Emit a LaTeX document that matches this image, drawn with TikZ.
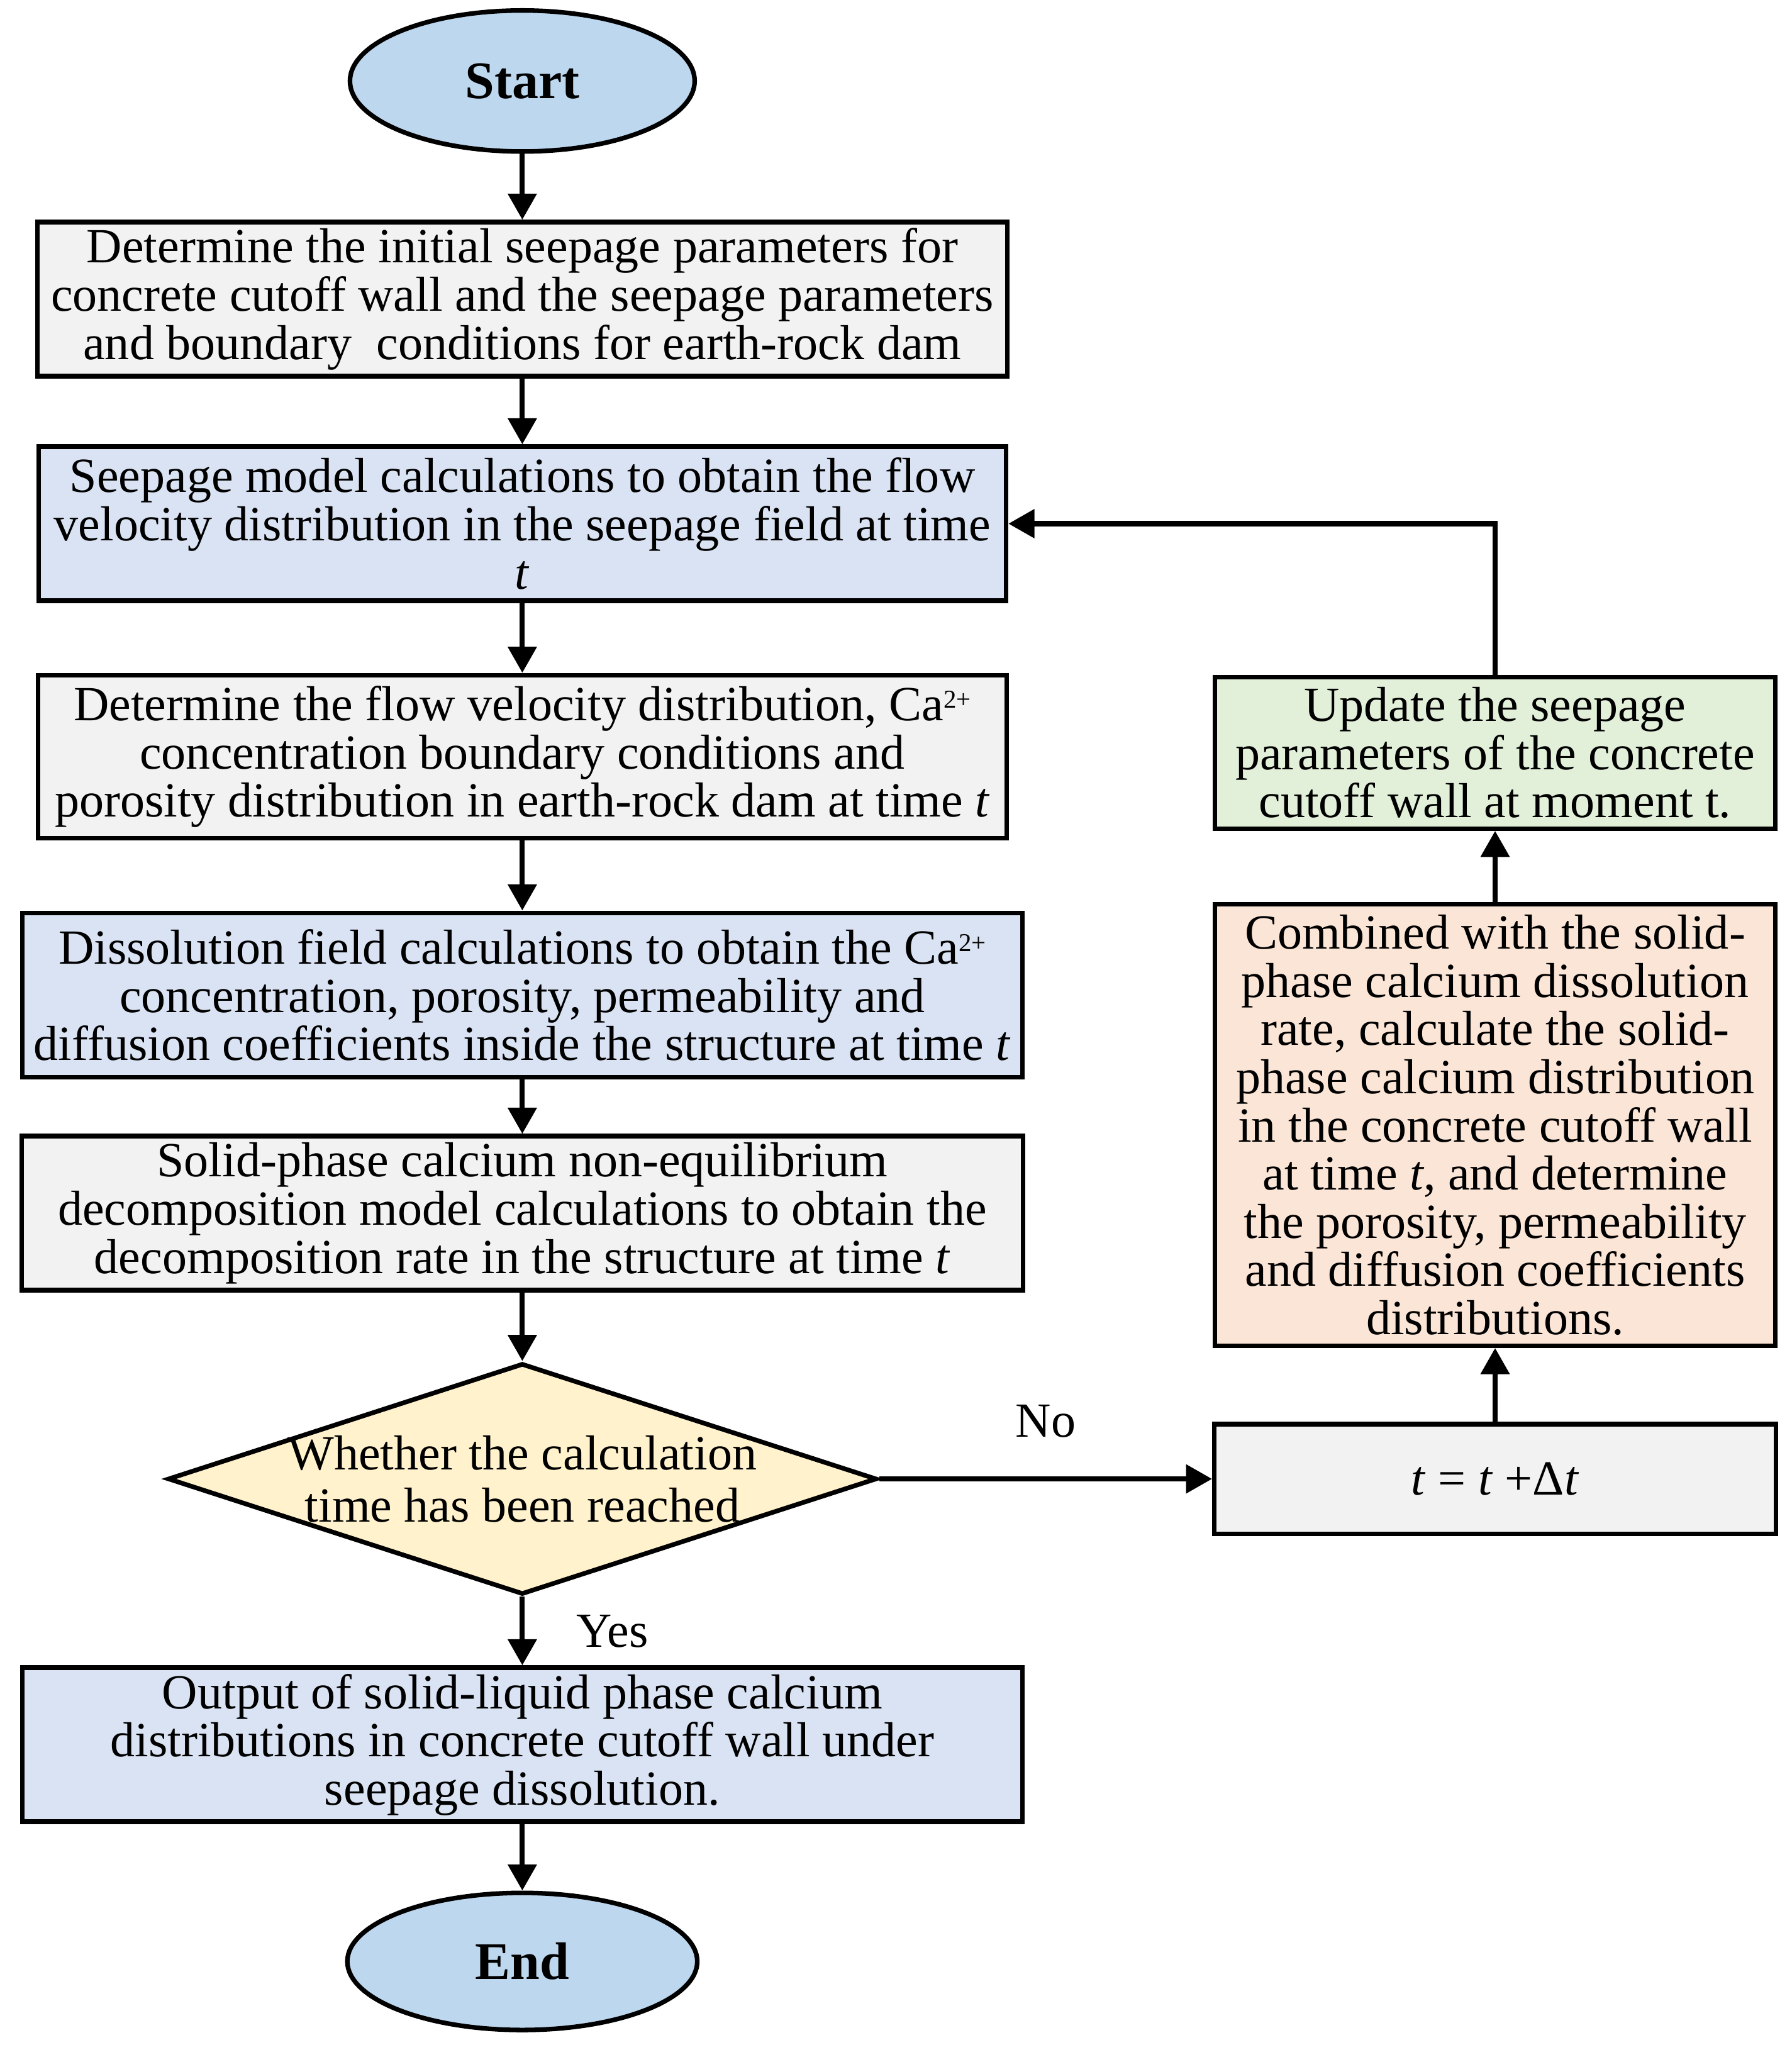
\documentclass[tikz,border=0pt]{standalone}
\usepackage{fontspec}
\setmainfont{Liberation Serif}
\usepackage{tikz}
\usetikzlibrary{shapes.geometric,arrows.meta}
\definecolor{greyfill}{HTML}{F2F2F2}
\definecolor{bluefill}{HTML}{DAE3F3}
\definecolor{endfill}{HTML}{BDD7EE}
\definecolor{yellowfill}{HTML}{FFF2CC}
\definecolor{greenfill}{HTML}{E2F0D9}
\definecolor{peachfill}{HTML}{FBE5D6}
\newcommand{\caion}{Ca\raisebox{2.7pt}{\fontsize{5.6}{6}\selectfont 2+}}

\begin{document}
\begin{tikzpicture}[node distance={17mm}, line width=1pt,
    font=\fontsize{10.7}{10.5}\selectfont,
    main/.style = {draw, rectangle, align=center, inner sep=0.3mm, minimum height=11.8mm},
    terminal/.style = {draw, ellipse, fill=endfill, inner sep=0pt, font=\fontsize{11.5}{12}\selectfont\bfseries},
    decision/.style = {draw, diamond, fill=yellowfill, inner sep=0pt},
    flow/.style = {line width=1.1pt, -{Triangle[length=2mm,width=2.15mm]}}]
        \useasboundingbox (0,0) rectangle (137.2mm,-156.6mm);
        \node[terminal, minimum width=26.4mm, minimum height=10.8mm] (start) at (40mm,-6.2mm) {Start};
        \node[main, fill=greyfill, minimum width=74.3mm] (n_1) [below of=start, node distance=16.7mm]
            {Determine the initial seepage parameters for\\ concrete cutoff wall and the seepage parameters\\ and boundary \ conditions for earth-rock dam};
        \node[main, fill=bluefill, minimum width=74.1mm] (n_2) [below of=n_1, node distance=17.2mm]
            {Seepage model calculations to obtain the flow\\ velocity distribution in the seepage field at time\\ \textit{t}};
        \node[main, fill=greyfill, minimum width=74.2mm, minimum height=12.5mm] (n_3) [below of=n_2, node distance=17.85mm]
            {Determine the flow velocity distribution, \caion\\ concentration boundary conditions and\\ porosity distribution in earth-rock dam at time \textit{t}};
        \node[main, fill=bluefill, minimum width=76.6mm, minimum height=12.6mm] (n_4) [below of=n_3, node distance=18.25mm]
            {Dissolution field calculations to obtain the \caion\\ concentration, porosity, permeability and\\ diffusion coefficients inside the structure at time \textit{t}};
        \node[main, fill=greyfill, minimum width=76.7mm] (n_5) [below of=n_4, node distance=16.7mm]
            {Solid-phase calcium non-equilibrium\\ decomposition model calculations to obtain the\\ decomposition rate in the structure at time \textit{t}};
        \node[decision, minimum width=54.3mm, minimum height=17.7mm] (n_6) [below of=n_5, node distance=20.35mm] {};
        \node[align=center, font=\fontsize{10.7}{11.4}\selectfont] (n_6_text) at (n_6.center)
            {Whether the calculation\\ time has been reached};
        \node[main, fill=bluefill, minimum width=76.6mm] (n_7) [below of=n_6, node distance=20.35mm]
            {Output of solid-liquid phase calcium\\ distributions in concrete cutoff wall under\\ seepage dissolution.};
        \node[terminal, minimum width=26.8mm, minimum height=10.5mm] (finish) [below of=n_7, node distance=16.6mm] {End};

        % right column
        \node[main, fill=greyfill, minimum width=43mm, minimum height=8.4mm] (n_8) [right of=n_6, node distance=74.5mm]
            {\textit{t} = \textit{t} +Δ\textit{t}};
        \node[main, fill=peachfill, minimum width=42.9mm, minimum height=33.8mm, inner sep=0pt] (n_9) [above of=n_8, node distance=27.1mm]
            {Combined with the solid-\\ phase calcium dissolution\\ rate, calculate the solid-\\ phase calcium distribution\\ in the concrete cutoff wall\\ at time \textit{t}, and determine\\ the porosity, permeability\\ and diffusion coefficients\\ distributions.};
        \node[main, fill=greenfill, minimum width=42.9mm, minimum height=11.6mm] (n_10) [above of=n_9, node distance=28.5mm]
            {Update the seepage\\ parameters of the concrete\\ cutoff wall at moment t.};

        \draw[flow] (start) -- (n_1);
        \draw[flow] (n_1) -- (n_2);
        \draw[flow] (n_2) -- (n_3);
        \draw[flow] (n_3) -- (n_4);
        \draw[flow] (n_4) -- (n_5);
        \draw[flow] (n_5) -- (n_6);
        \draw[flow] (n_6) -- node[midway, right=2.8mm] (yes) {Yes} (n_7);
        \draw[flow] (n_7) -- (finish);
        \draw[flow] (n_6) -- node[midway, above=1.8mm] (no) {No} (n_8);
        \draw[flow] (n_8) -- (n_9);
        \draw[flow] (n_9) -- (n_10);
        \draw[flow] (n_10.north) |- (n_2.east);
      \end{tikzpicture}
\end{document}
